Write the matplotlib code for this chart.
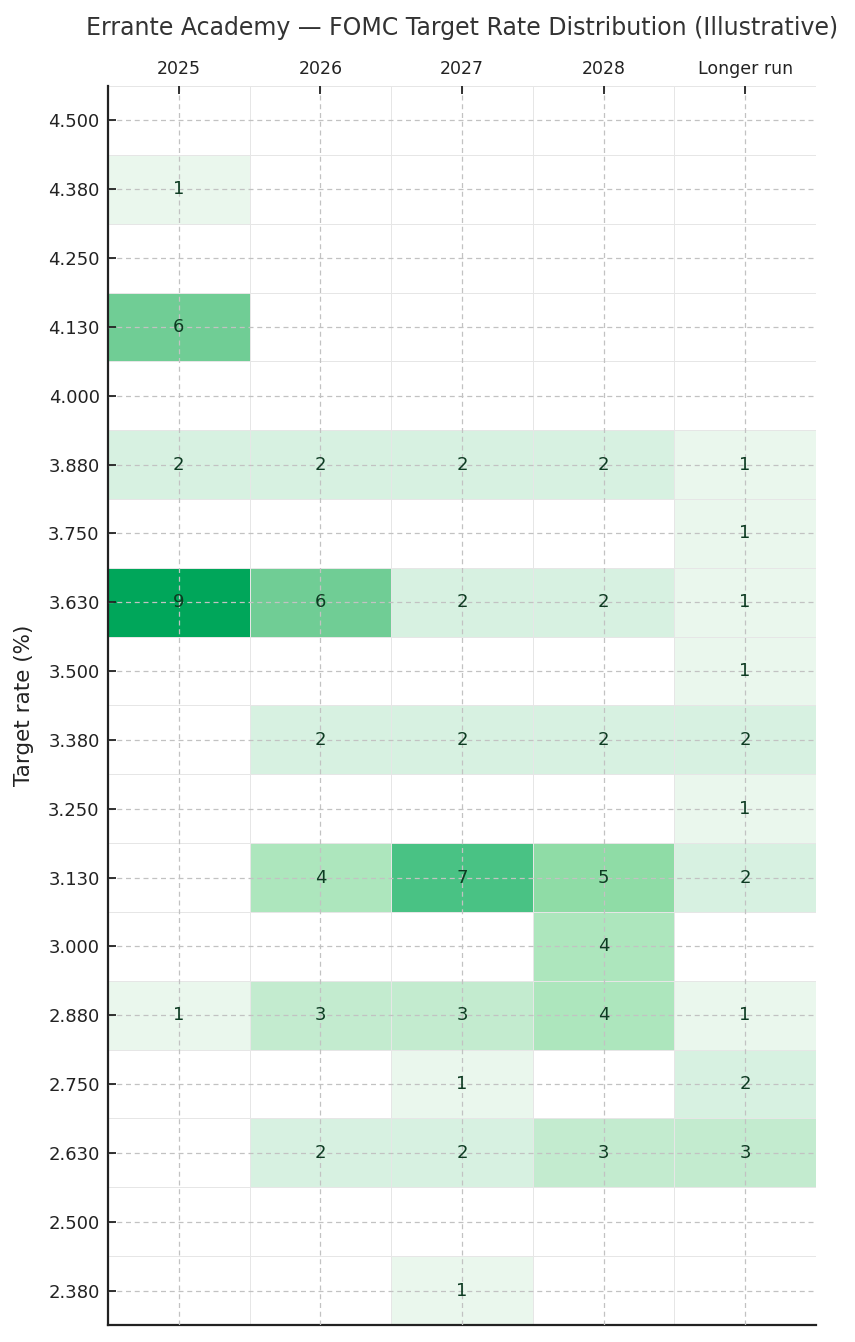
#!/usr/bin/env python3
"""FOMC target rate distribution heatmap (illustrative)."""
import numpy as np
import matplotlib
matplotlib.use("Agg")
import matplotlib.pyplot as plt
from matplotlib.colors import LinearSegmentedColormap


columns = ["2025", "2026", "2027", "2028", "Longer run"]
rates = [4.50, 4.38, 4.25, 4.13, 4.00, 3.88, 3.75, 3.63, 3.50,
         3.38, 3.25, 3.13, 3.00, 2.88, 2.75, 2.63, 2.50, 2.38]

# counts per rate row (top to bottom), one column per horizon
col_2025 = [0, 1, 0, 6, 0, 2, 0, 9, 0, 0, 0, 0, 0, 1, 0, 0, 0, 0]
col_2026 = [0, 0, 0, 0, 0, 2, 0, 6, 0, 2, 0, 4, 0, 3, 0, 2, 0, 0]
col_2027 = [0, 0, 0, 0, 0, 2, 0, 2, 0, 2, 0, 7, 0, 3, 1, 2, 0, 1]
col_2028 = [0, 0, 0, 0, 0, 2, 0, 2, 0, 2, 0, 5, 4, 4, 0, 3, 0, 0]
col_lr = [0, 0, 0, 0, 0, 1, 1, 1, 1, 2, 1, 2, 0, 1, 2, 3, 0, 0]

# colour anchors (count -> colour)
anchor_counts = [0, 1, 2, 3, 4, 5, 6, 7, 9]
anchor_colors = ["#ffffff", "#eaf7ed", "#d7f1e1", "#c3ebcf", "#ade6bd",
                 "#8fdca6", "#70cd95", "#4ac285", "#00a65a"]


def main():
    counts = np.array([col_2025, col_2026, col_2027, col_2028, col_lr]).T
    vmax = max(anchor_counts)
    cmap = LinearSegmentedColormap.from_list(
        "greens", [(c / vmax, col) for c, col in zip(anchor_counts, anchor_colors)])

    fig = plt.figure(figsize=(8.55, 13.42), dpi=100)
    ax = fig.add_axes([0.1263, 0.0127, 0.828, 0.9232])

    nrows, ncols = counts.shape
    ax.pcolormesh(np.arange(ncols + 1), np.arange(nrows + 1), counts,
                  cmap=cmap, vmin=0, vmax=vmax,
                  edgecolors="#e6e6e6", linewidth=0.6)
    ax.set_xlim(0, ncols)
    ax.set_ylim(nrows, 0)

    for i in range(nrows):
        for j in range(ncols):
            v = counts[i, j]
            if v:
                ax.text(j + 0.5, i + 0.5, str(v), ha="center", va="center",
                        fontsize=13, color="#0d3b22", zorder=4)

    ax.set_xticks(np.arange(ncols) + 0.5)
    ax.set_xticklabels(columns)
    ax.set_yticks(np.arange(nrows) + 0.5)
    ax.set_yticklabels([f"{r:.3f}" for r in rates])
    ax.xaxis.tick_top()
    ax.tick_params(axis="both", direction="in", length=6, width=1.3,
                   color="#222222", labelsize=13, labelcolor="#222222")
    ax.tick_params(axis="x", labelsize=12.5, pad=6)
    ax.tick_params(axis="y", pad=6)

    ax.grid(True, linestyle=(0, (4, 3)), color="#c2c2c2", linewidth=0.9, zorder=3)
    ax.set_axisbelow(False)

    for side in ("top", "right"):
        ax.spines[side].set_visible(False)
    for side in ("left", "bottom"):
        ax.spines[side].set_linewidth(1.6)
        ax.spines[side].set_color("#222222")

    ax.set_ylabel("Target rate (%)", fontsize=15.5, color="#222222", labelpad=10)
    fig.text(0.5403, 0.979,
             "Errante Academy \u2014 FOMC Target Rate Distribution (Illustrative)",
             ha="center", va="center", fontsize=17, color="#333333")

    fig.savefig("out.png", dpi=100)
    plt.close(fig)


if __name__ == "__main__":
    main()
